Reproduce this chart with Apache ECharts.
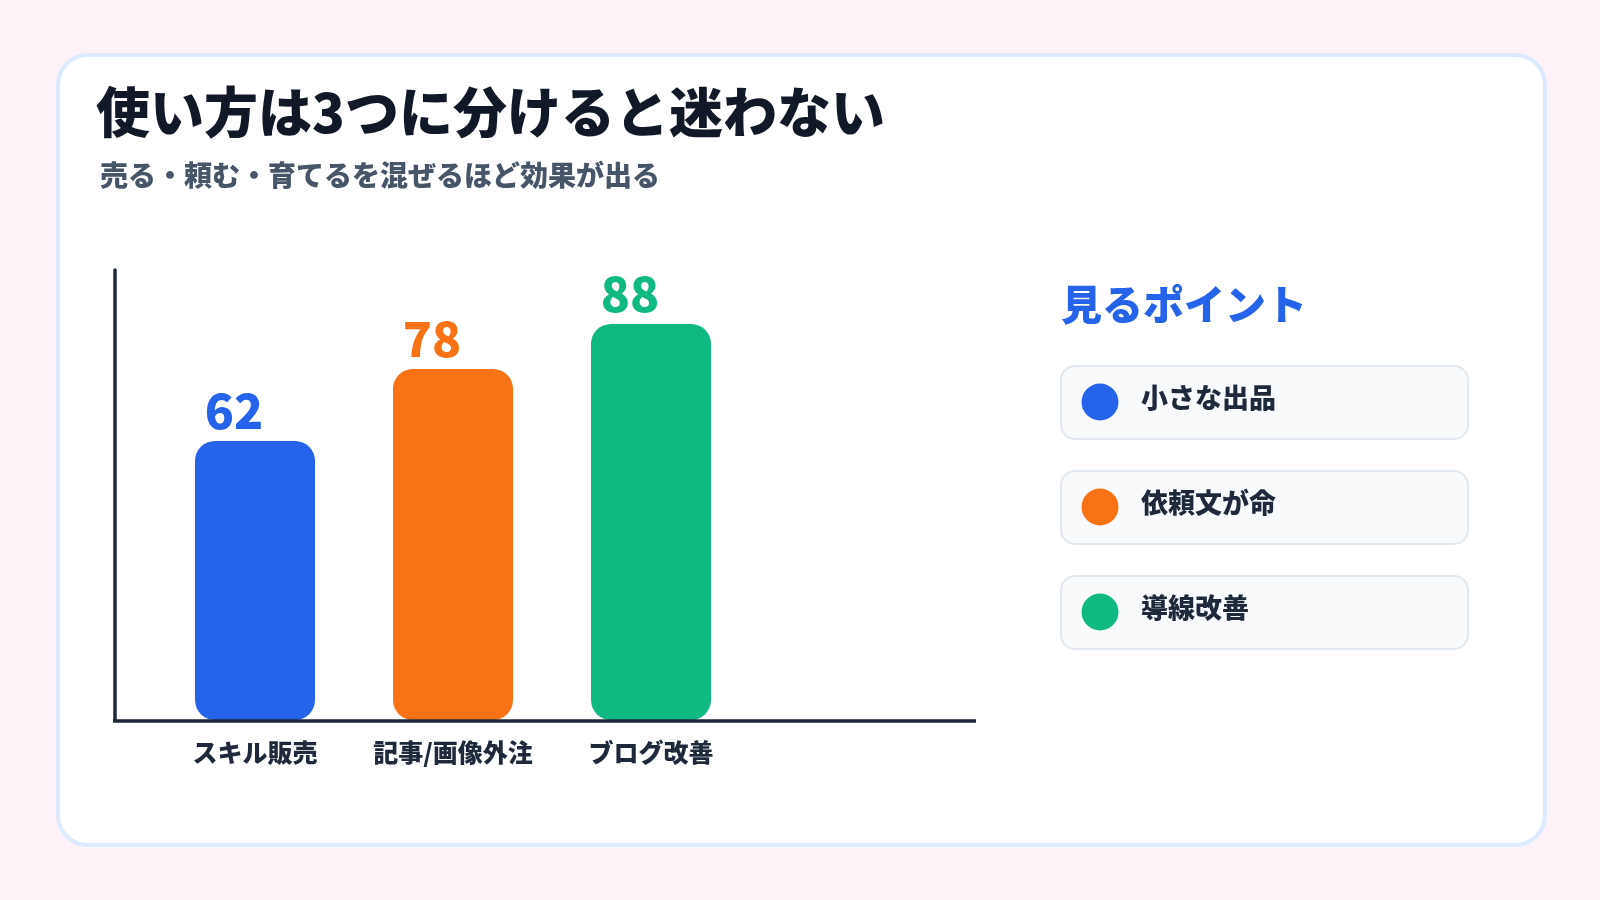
<!DOCTYPE html>
<html>
<head>
<meta charset="utf-8">
<script src="https://cdn.jsdelivr.net/npm/echarts@6/dist/echarts.min.js"></script>
<style>
  html, body { margin: 0; padding: 0; background: #fdf2f8; }
  #chart { width: 1600px; height: 900px; }
</style>
</head>
<body>
<div id="chart"></div>
<script>
const categories = ["スキル販売", "記事/画像外注", "ブログ改善"];
const values = [62, 78, 88];
const barColors = ["#2563eb", "#f97316", "#10b981"];
const pointLabels = ["小さな出品", "依頼文が命", "導線改善"];
const titleText = "使い方は3つに分けると迷わない";
const subText = "売る・頼む・育てるを混ぜるほど効果が出る";
const pointsTitle = "見るポイント";

const font = "'Noto Sans CJK JP', 'Noto Sans', sans-serif";
const myChart = echarts.init(document.getElementById("chart"));

// right-hand panel
let panel = [
  {
    type: "text",
    left: 1061,
    top: 284,
    z: 10,
    style: { text: pointsTitle, fill: "#2563eb", font: "900 41px " + font }
  }
];
pointLabels.forEach((name, i) => {
  let y = 366 + i * 105;
  panel.push({
    type: "rect",
    z: 10,
    shape: { x: 1061, y: y, width: 407, height: 73, r: 14 },
    style: { fill: "#f8fafc", stroke: "#e2e8f0", lineWidth: 2 }
  });
  panel.push({
    type: "circle",
    z: 11,
    shape: { cx: 1100, cy: y + 36, r: 18.5 },
    style: { fill: barColors[i] }
  });
  panel.push({
    type: "text",
    z: 11,
    x: 1141,
    y: y + 32,
    style: {
      text: name,
      fill: "#1e293b",
      font: "900 27px " + font,
      verticalAlign: "middle"
    }
  });
});

myChart.setOption({
  backgroundColor: "#fdf2f8",
  textStyle: { fontFamily: font },
  title: [
    {
      text: titleText,
      left: 91,
      top: 80,
      textStyle: { fontSize: 54, fontWeight: 900, color: "#111827", fontFamily: font }
    },
    {
      text: subText,
      left: 95,
      top: 156,
      textStyle: { fontSize: 28, fontWeight: 900, color: "#475569", fontFamily: font }
    }
  ],
  graphic: [
    {
      type: "rect",
      z: -10,
      shape: { x: 58, y: 55, width: 1487, height: 790, r: 30 },
      style: { fill: "#ffffff", stroke: "#dbeafe", lineWidth: 4 }
    },
    {
      // x axis baseline, longer than the category band
      type: "line",
      z: 5,
      shape: { x1: 113, y1: 721, x2: 976, y2: 721 },
      style: { stroke: "#1e293b", lineWidth: 3.5 }
    }
  ].concat(panel),
  grid: {
    left: 156,
    top: 270,
    width: 594,
    height: 450
  },
  xAxis: {
    type: "category",
    data: categories,
    axisLine: { show: false },
    axisTick: { show: false },
    axisLabel: {
      interval: 0,
      margin: 20,
      fontSize: 25,
      fontWeight: 900,
      color: "#1e293b",
      fontFamily: font
    }
  },
  yAxis: {
    type: "value",
    min: 0,
    max: 100,
    offset: 41,
    axisLine: { show: true, lineStyle: { color: "#1e293b", width: 3.5 } },
    axisTick: { show: false },
    axisLabel: { show: false },
    splitLine: { show: false }
  },
  series: [
    {
      type: "bar",
      barWidth: 120,
      data: values.map((v, i) => ({
        value: v,
        itemStyle: { color: barColors[i] },
        label: { color: barColors[i] }
      })),
      itemStyle: { borderRadius: 20 },
      label: {
        show: true,
        position: "top",
        distance: 6,
        offset: [-21, 0],
        fontSize: 48,
        fontWeight: 900,
        fontFamily: font
      }
    }
  ]
});
</script>
</body>
</html>
